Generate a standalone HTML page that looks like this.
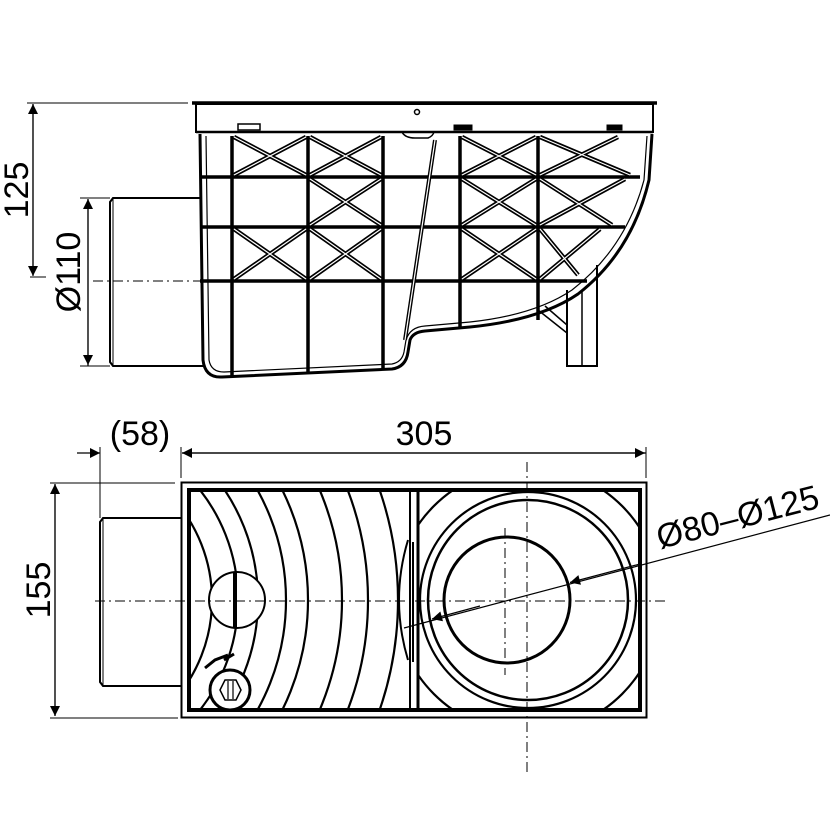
<!DOCTYPE html>
<html><head><meta charset="utf-8"><style>html,body{margin:0;padding:0;background:#fff;width:830px;height:830px;overflow:hidden}svg{display:block}</style></head>
<body>
<svg width="830" height="830" viewBox="0 0 830 830" xmlns="http://www.w3.org/2000/svg" font-family="Liberation Sans, DejaVu Sans, sans-serif">
<defs>
<marker id="ar" viewBox="0 0 10 10" refX="10" refY="5" markerWidth="14" markerHeight="10" markerUnits="userSpaceOnUse" orient="auto"><path d="M0,0 L10,5 L0,10 z" fill="#000"/></marker>
<clipPath id="lc"><rect x="189" y="491" width="221" height="218"/></clipPath>
<clipPath id="rc"><rect x="419" y="491" width="220" height="218"/></clipPath>
</defs>
<g stroke="#000" fill="none">
<line x1="27" y1="103" x2="188" y2="103" stroke-width="1"/>
<line x1="30" y1="277" x2="46" y2="277" stroke-width="1"/>
<line x1="33" y1="275" x2="33" y2="104" stroke-width="1.2" marker-end="url(#ar)"/>
<line x1="33" y1="104" x2="33" y2="276" stroke-width="1.2" marker-end="url(#ar)"/>
<line x1="80" y1="198" x2="110" y2="198" stroke-width="1"/>
<line x1="80" y1="366" x2="110" y2="366" stroke-width="1"/>
<line x1="88" y1="366" x2="88" y2="199" stroke-width="1.2" marker-end="url(#ar)"/>
<line x1="88" y1="199" x2="88" y2="365" stroke-width="1.2" marker-end="url(#ar)"/>
<line x1="93" y1="281" x2="205" y2="281" stroke-width="1" stroke-dasharray="10,4,2,4"/>
<path d="M200,198 L113,198 L110,202 L110,362 L113,366 L203,366" stroke-width="2"/>
<line x1="113" y1="198" x2="113" y2="366" stroke-width="1"/>
<rect x="196" y="104" width="457" height="28" stroke-width="2"/>
<line x1="192" y1="103" x2="657" y2="103" stroke-width="3.5"/>
<line x1="196" y1="132" x2="653" y2="132" stroke-width="2.5"/>
<circle cx="417" cy="112" r="2.5" stroke-width="1.5"/>
<rect x="238" y="124" width="22" height="6" stroke-width="1.5"/>
<rect x="454" y="125" width="18" height="5" fill="#000"/>
<rect x="607" y="125" width="15" height="5" fill="#000"/>
<path d="M402,132 Q405,138 415,138 L428,138 Q433,136 434,132" stroke-width="1.5"/>
<path d="M200,134 L203,360 Q205,378 222,377 L392,369 Q406,367 408,352 L410,340 Q413,332 425,331 L470,327 Q540,320 578,294 Q632,252 649,180 L652,134" stroke-width="3"/>
<path d="M206,136 L209,360 Q211,372 224,372 L392,364 Q402,362 404,352 L406,340 Q410,327 425,326 L470,322 Q535,315 572,290 Q626,248 644,180 L647,136" stroke-width="1.2"/>
<path d="M567,290 L567,366 L597,366 L597,265" stroke-width="2"/>
<line x1="582" y1="290" x2="582" y2="366" stroke-width="1.5"/>
<line x1="538" y1="310" x2="567" y2="333" stroke-width="1.5"/>
<line x1="545" y1="306" x2="567" y2="325" stroke-width="1.5"/>
<g stroke-width="3.5">
<line x1="232" y1="136" x2="232" y2="376"/>
<line x1="308" y1="136" x2="308" y2="373"/>
<line x1="383" y1="136" x2="383" y2="370"/>
<line x1="460" y1="136" x2="460" y2="328"/>
<line x1="538" y1="136" x2="538" y2="320"/>
<line x1="200" y1="177" x2="640" y2="177"/>
<line x1="200" y1="227" x2="625" y2="227"/>
<line x1="200" y1="281" x2="587" y2="281"/>
</g>
<path d="M435,140 L405,340" stroke-width="4"/><path d="M435,140 L405,340" stroke="#fff" stroke-width="1.2"/>
<g stroke-width="4.5">
<path d="M234,137 L306,175 M306,137 L234,175"/>
<path d="M310,137 L381,175 M381,137 L310,175"/>
<path d="M462,137 L536,175 M536,137 L462,175"/>
<path d="M540,137 L630,175 M618,137 L540,175"/>
<path d="M310,179 L381,225 M381,179 L310,225"/>
<path d="M462,179 L536,225 M536,179 L462,225"/>
<path d="M540,179 L612,225 M625,179 L540,225"/>
<path d="M234,229 L306,279 M306,229 L234,279"/>
<path d="M310,229 L381,279 M381,229 L310,279"/>
<path d="M462,229 L536,279 M536,229 L462,279"/>
<path d="M540,229 L578,275 M600,229 L540,279"/>
</g>
<g stroke="#fff" stroke-width="1.2">
<path d="M234,137 L306,175 M306,137 L234,175"/>
<path d="M310,137 L381,175 M381,137 L310,175"/>
<path d="M462,137 L536,175 M536,137 L462,175"/>
<path d="M540,137 L630,175 M618,137 L540,175"/>
<path d="M310,179 L381,225 M381,179 L310,225"/>
<path d="M462,179 L536,225 M536,179 L462,225"/>
<path d="M540,179 L612,225 M625,179 L540,225"/>
<path d="M234,229 L306,279 M306,229 L234,279"/>
<path d="M310,229 L381,279 M381,229 L310,279"/>
<path d="M462,229 L536,279 M536,229 L462,279"/>
<path d="M540,229 L578,275 M600,229 L540,279"/>
</g>
<line x1="100" y1="447" x2="100" y2="518" stroke-width="1"/>
<line x1="181" y1="447" x2="181" y2="478" stroke-width="1"/>
<line x1="646" y1="447" x2="646" y2="478" stroke-width="1"/>
<line x1="77" y1="453" x2="100" y2="453" stroke-width="1.2" marker-end="url(#ar)"/>
<line x1="646" y1="453" x2="182" y2="453" stroke-width="1.2" marker-end="url(#ar)"/>
<line x1="182" y1="453" x2="645" y2="453" stroke-width="1.2" marker-end="url(#ar)"/>
<line x1="50" y1="483" x2="175" y2="483" stroke-width="1"/>
<line x1="50" y1="718" x2="178" y2="718" stroke-width="1"/>
<line x1="55" y1="716" x2="55" y2="484" stroke-width="1.2" marker-end="url(#ar)"/>
<line x1="55" y1="484" x2="55" y2="716" stroke-width="1.2" marker-end="url(#ar)"/>
<path d="M181,518 L103,518 L100,522 L100,682 L103,686 L181,686" stroke-width="2"/>
<line x1="103" y1="518" x2="103" y2="686" stroke-width="1"/>
<rect x="181.5" y="482.5" width="465" height="235" stroke-width="2"/>
<rect x="189" y="490" width="451" height="220" stroke-width="4"/>
<line x1="410" y1="490" x2="410" y2="710" stroke-width="2"/>
<line x1="418" y1="490" x2="418" y2="710" stroke-width="3"/>
<g clip-path="url(#lc)" stroke-width="2.2">
<circle cx="60" cy="600" r="152"/>
<circle cx="60" cy="600" r="178"/>
<circle cx="60" cy="600" r="198"/>
<circle cx="60" cy="600" r="226"/>
<circle cx="60" cy="600" r="248"/>
<circle cx="60" cy="600" r="282"/>
<circle cx="60" cy="600" r="308"/>
<circle cx="60" cy="600" r="338"/>
</g>
<path d="M408,540 Q390,600 408,660" stroke-width="2"/>
<line x1="413" y1="542" x2="413" y2="662" stroke-width="2"/>
<circle cx="237" cy="600" r="28" stroke-width="2" fill="#fff"/>
<line x1="235" y1="572" x2="235" y2="628" stroke-width="4"/>
<circle cx="230" cy="690" r="20" stroke-width="3" fill="#fff"/>
<path d="M220,690 L225,680 L236,680 L241,690 L236,700 L225,700 z" stroke-width="1.5"/>
<line x1="228" y1="681" x2="228" y2="699" stroke-width="1.2"/><line x1="233" y1="681" x2="233" y2="699" stroke-width="1.2"/>
<path d="M205,668 L215,660 L228,655 M224,660 L234,654" stroke-width="3"/>
<g clip-path="url(#rc)">
<circle cx="528" cy="600" r="133" stroke-width="2.2"/>
</g>
<circle cx="528" cy="600" r="108" stroke-width="2.2"/>
<circle cx="528" cy="600" r="100" stroke-width="2.5"/>
<circle cx="507" cy="600" r="63" stroke-width="3"/>
<line x1="527" y1="462" x2="527" y2="775" stroke-width="1" stroke-dasharray="10,4,2,4"/>
<line x1="505" y1="528" x2="505" y2="675" stroke-width="1" stroke-dasharray="10,4,2,4"/>
<line x1="95" y1="601" x2="665" y2="601" stroke-width="1" stroke-dasharray="10,4,2,4"/>
<line x1="830" y1="515" x2="404" y2="628" stroke-width="1.2"/>
<line x1="640" y1="564" x2="570" y2="582.5" stroke-width="1.2" marker-end="url(#ar)"/>
<line x1="480" y1="606" x2="432" y2="619" stroke-width="1.2" marker-end="url(#ar)"/>
</g>
<g fill="#000" font-size="34">
<text transform="translate(28,190) rotate(-90)" text-anchor="middle">125</text>
<text transform="translate(80,272) rotate(-90)" text-anchor="middle">Ø110</text>
<text x="140" y="445" text-anchor="middle">(58)</text>
<text x="424" y="445" text-anchor="middle">305</text>
<text transform="translate(50,590) rotate(-90)" text-anchor="middle">155</text>
<text transform="translate(660,549) rotate(-14.5)">Ø80–Ø125</text>
</g>
</svg>
</body></html>
